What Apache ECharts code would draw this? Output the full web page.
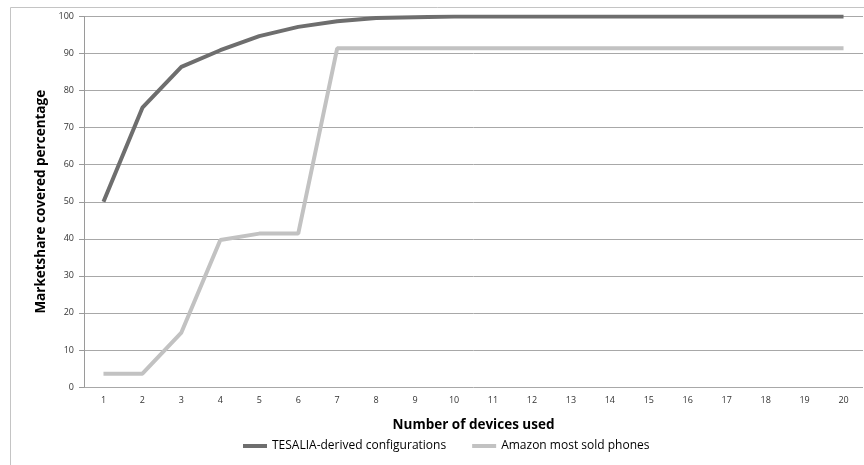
<!DOCTYPE html>
<html>
<head>
<meta charset="utf-8">
<script src="https://cdn.jsdelivr.net/npm/echarts@6/dist/echarts.min.js"></script>
<style>html,body{margin:0;padding:0;background:#fff}#c{width:864px;height:465px}</style>
</head>
<body>
<div id="c"></div>
<script>
var categories = ['1','2','3','4','5','6','7','8','9','10','11','12','13','14','15','16','17','18','19','20'];
var tesalia = [50, 75.4, 86.4, 90.9, 94.7, 97.2, 98.7, 99.6, 99.8, 100, 100, 100, 100, 100, 100, 100, 100, 100, 100, 100];
var amazon = [3.6, 3.6, 14.7, 39.7, 41.4, 41.4, 91.4, 91.4, 91.4, 91.4, 91.4, 91.4, 91.4, 91.4, 91.4, 91.4, 91.4, 91.4, 91.4, 91.4];
var seriesNames = ['TESALIA-derived configurations', 'Amazon most sold phones'];
var yTicks = {min: 0, max: 100, interval: 10};

var chart = echarts.init(document.getElementById('c'), null, {renderer: 'canvas'});
var font = '"Open Sans", "Noto Sans", sans-serif';
chart.setOption({
  animation: false,
  backgroundColor: '#fff',
  graphic: [{
    type: 'rect', left: 8, top: 5, silent: true,
    shape: {width: 900, height: 500},
    style: {fill: 'none', stroke: '#c4c4c4', lineWidth: 1}
  }],
  grid: {left: 84, right: 1, top: 16.5, bottom: 78, containLabel: false},
  legend: {
    bottom: 8, left: 238, itemWidth: 24, itemHeight: 4, itemGap: 26,
    icon: 'rect',
    textStyle: {fontFamily: font, fontSize: 12, color: '#000'},
    data: seriesNames
  },
  xAxis: {
    type: 'category', data: categories, boundaryGap: true,
    name: 'Number of devices used', nameLocation: 'middle', nameGap: 31,
    nameTextStyle: {fontFamily: font, fontWeight: 'bold', fontSize: 13.5, color: '#000'},
    axisLine: {show: false},
    axisTick: {show: false},
    axisLabel: {fontFamily: font, fontSize: 9, color: '#333', margin: 9}
  },
  yAxis: {
    type: 'value', min: yTicks.min, max: yTicks.max, interval: yTicks.interval,
    name: 'Marketshare covered percentage', nameLocation: 'middle', nameGap: 33,
    nameTextStyle: {fontFamily: font, fontWeight: 'bold', fontSize: 13.5, color: '#000'},
    axisLine: {show: true, lineStyle: {color: '#9a9a9a', width: 1}},
    axisTick: {show: true, length: 5, lineStyle: {color: '#9a9a9a'}},
    axisLabel: {fontFamily: font, fontSize: 9, color: '#333', margin: 10},
    splitLine: {show: true, lineStyle: {color: '#a8a8a8', width: 1}}
  },
  series: [
    {name: seriesNames[0], type: 'line', data: tesalia, symbol: 'none',
     lineStyle: {color: '#6e6e6e', width: 4}, itemStyle: {color: '#6e6e6e'}, z: 3},
    {name: seriesNames[1], type: 'line', data: amazon, symbol: 'none',
     lineStyle: {color: '#c2c2c2', width: 4}, itemStyle: {color: '#c2c2c2'}, z: 2}
  ]
});
</script>
</body>
</html>
